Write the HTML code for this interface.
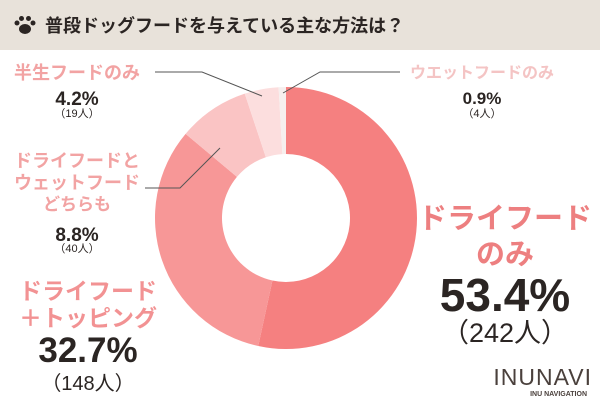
<!DOCTYPE html>
<html><head><meta charset="utf-8"><style>
body{margin:0;width:600px;height:400px;overflow:hidden;background:#fff;font-family:"Liberation Sans","Noto Sans CJK JP",sans-serif}
svg text{font-family:"Liberation Sans","Noto Sans CJK JP",sans-serif}
</style></head><body>
<svg width="600" height="400">
<rect x="0" y="0" width="600" height="50" fill="#e8e2da"/>
<g fill="#2b2523">
<ellipse cx="25" cy="29" rx="6" ry="5"/><circle cx="17" cy="23" r="2.5"/><circle cx="21.5" cy="18.5" r="2.5"/><circle cx="28.5" cy="18.5" r="2.5"/><circle cx="33" cy="23" r="2.5"/></g>
<text x="45" y="32" font-size="18" font-weight="bold" fill="#2b2523">普段ドッグフードを与えている主な方法は？</text>
<g id="slices"></g>
<g stroke="#555" stroke-width="1" fill="none">
<polyline points="155,72 202,72 262,96"/><polyline points="400,72 320,72 283,93"/><polyline points="145,188 180,188 220,148"/></g>
<g font-weight="bold" text-anchor="middle" fill="#2b2523">
<text x="77" y="79" font-size="18" fill="#f2a3a3">半生フードのみ</text>
<text x="77" y="105" font-size="19">4.2%</text>
<text x="77" y="117" font-size="11" font-weight="normal">（19人）</text>
<text x="482" y="78" font-size="16" fill="#f4c4c4">ウエットフードのみ</text>
<text x="482" y="104" font-size="17">0.9%</text>
<text x="482" y="117" font-size="11" font-weight="normal">（4人）</text>
<text x="77" y="167" font-size="18" fill="#f2a3a3">ドライフードと</text>
<text x="77" y="189" font-size="18" fill="#f2a3a3">ウェットフード</text>
<text x="77" y="210" font-size="17" fill="#f2a3a3">どちらも</text>
<text x="77" y="241" font-size="19">8.8%</text>
<text x="77" y="252" font-size="11" font-weight="normal">（40人）</text>
<text x="505" y="228" font-size="29" fill="#ed7f80">ドライフード</text>
<text x="505" y="264" font-size="29" fill="#ed7f80">のみ</text>
<text x="505" y="311" font-size="46">53.4%</text>
<text x="505" y="342" font-size="27" font-weight="normal">（242人）</text>
<text x="88" y="299" font-size="23" fill="#f29293">ドライフード</text>
<text x="88" y="326" font-size="23" fill="#f29293">＋トッピング</text>
<text x="88" y="362" font-size="35">32.7%</text>
<text x="88" y="390" font-size="20" font-weight="normal">（148人）</text>
</g>
<text x="592" y="385" font-size="23" text-anchor="end" fill="#4a403c" letter-spacing="1">INUNAVI</text>
<text x="587" y="396" font-size="7" font-weight="bold" text-anchor="end" fill="#4a403c">INU NAVIGATION</text>
</svg>
<script>
const categories=["ドライフードのみ","ドライフード＋トッピング","ドライフードとウェットフードどちらも","半生フードのみ","ウエットフードのみ"];
const values=[53.4,32.7,8.8,4.2,0.9];
const colors=["#f58080","#f79797","#fac4c4","#fcdede","#f6efee"];
const cx=286,cy=218,R=131,r=64;
const g=document.getElementById('slices');
const tot=values.reduce((a,b)=>a+b,0);
let a0=0;
function pt(a,rad){return [cx+rad*Math.sin(a),cy-rad*Math.cos(a)];}
values.forEach((v,i)=>{
 const a1=a0+v/tot*2*Math.PI;const lg=(a1-a0)>Math.PI?1:0;
 const p1=pt(a0,R),p2=pt(a1,R),p3=pt(a1,r),p4=pt(a0,r);
 const p=document.createElementNS('http://www.w3.org/2000/svg','path');
 p.setAttribute('d',`M${p1}A${R},${R} 0 ${lg} 1 ${p2}L${p3}A${r},${r} 0 ${lg} 0 ${p4}Z`);
 p.setAttribute('fill',colors[i]);
 
 
 g.appendChild(p);a0=a1;
});
</script>
</body></html>
